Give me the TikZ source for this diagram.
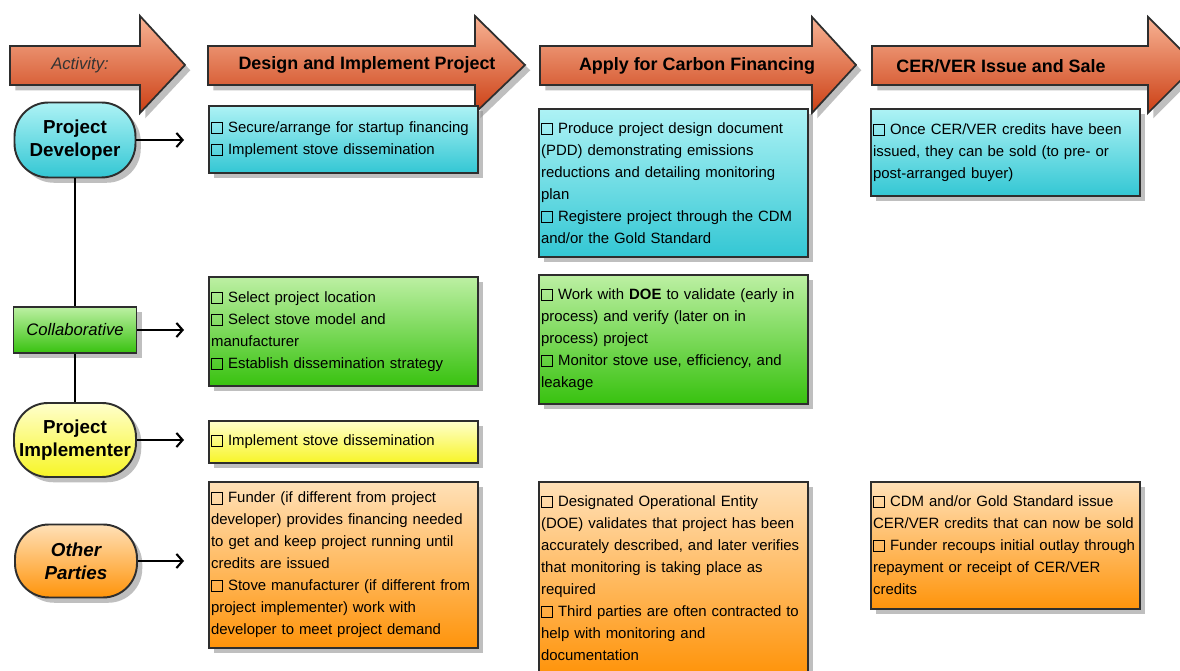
\documentclass[tikz,border=0pt]{standalone}
\usepackage{fontspec}
\setmainfont{Liberation Sans}
\usetikzlibrary{arrows.meta,shadows}
\definecolor{ArrTop}{rgb}{0.97,0.70,0.58}
\definecolor{ArrMid}{rgb}{0.92,0.43,0.25}
\definecolor{ArrBot}{rgb}{0.80,0.25,0.08}
\definecolor{CyanTop}{rgb}{0.68,0.95,0.96}
\definecolor{CyanBot}{rgb}{0.20,0.78,0.83}
\definecolor{GreenTop}{rgb}{0.74,0.94,0.64}
\definecolor{GreenBot}{rgb}{0.22,0.76,0.06}
\definecolor{YellowTop}{rgb}{1,1,0.80}
\definecolor{YellowBot}{rgb}{0.97,0.96,0.15}
\definecolor{OrangeTop}{rgb}{1,0.88,0.72}
\definecolor{OrangeBot}{rgb}{1,0.58,0.04}
\definecolor{EdgeClr}{rgb}{0.18,0.18,0.18}

\newcommand\cb{\raisebox{-0.04em}{\fboxsep=0pt\fboxrule=0.45pt\fbox{\rule{0pt}{0.7em}\hspace{0.7em}}}\ }

\begin{document}
\begin{tikzpicture}[x=0.02cm,y=-0.02cm,
  shadowed/.style={drop shadow={shadow xshift=3pt,shadow yshift=-3pt,fill=black!45,opacity=.55}},
  hdr/.style={draw=EdgeClr,line width=1pt,top color=ArrTop,middle color=ArrMid,bottom color=ArrBot,shadowed},
  hdrtxt/.style={font=\bfseries\fontsize{10.2}{12}\selectfont},
  actor/.style={draw=EdgeClr,line width=1.1pt,shadowed,align=center,inner sep=1pt,
    font=\bfseries\fontsize{10.7}{13}\selectfont},
  pbox/.style={draw=EdgeClr,line width=1.1pt,shadowed,anchor=north west,align=left,
    text width=5.3cm,inner xsep=1.2pt,inner ysep=0pt,font=\fontsize{8.5}{12.5}\selectfont},
  cyanfill/.style={top color=CyanTop,bottom color=CyanBot},
  greenfill/.style={top color=GreenTop,bottom color=GreenBot},
  yellowfill/.style={top color=YellowTop,bottom color=YellowBot},
  orangefill/.style={top color=OrangeTop,bottom color=OrangeBot},
  link/.style={line width=1pt},
  flow/.style={line width=1.2pt,-{Straight Barb[length=3.5pt,width=8pt]}}]
\path[use as bounding box,fill=white] (0,0) rectangle (1180,671);

% activity arrows
\path[hdr] (10,46) -- (140,46) -- (140,16) -- (185,65) -- (140,113) -- (140,85) -- (10,85) -- cycle;
\path[hdr] (208,46) -- (475,46) -- (475,16) -- (525,65) -- (475,113) -- (475,85) -- (208,85) -- cycle;
\path[hdr] (540,46) -- (812,46) -- (812,17) -- (856,65) -- (812,113) -- (812,85) -- (540,85) -- cycle;
\path[hdr] (872,46) -- (1148,46) -- (1148,17) -- (1196,65) -- (1148,113) -- (1148,85) -- (872,85) -- cycle;
\node[font=\itshape\fontsize{9.5}{11}\selectfont,text=black!80] (act) at (80,65) {Activity:};
\node[hdrtxt] (phase1) at (367,65) {Design and Implement Project};
\node[hdrtxt] (phase2) at (697,66) {Apply for Carbon Financing};
\node[hdrtxt] (phase3) at (1001,66) {CER/VER Issue and Sale};

% parties
\node[actor,cyanfill,rounded corners=0.68cm,minimum width=2.42cm,minimum height=1.5cm] (dev) at (75,140) {Project\\Developer};
\node[actor,greenfill,minimum width=2.46cm,minimum height=0.92cm,font=\itshape\fontsize{9.5}{12}\selectfont] (col) at (75,330) {Collaborative};
\node[actor,yellowfill,rounded corners=0.68cm,minimum width=2.44cm,minimum height=1.48cm] (imp) at (75,440) {Project\\Implementer};
\node[actor,orangefill,rounded corners=0.68cm,minimum width=2.44cm,minimum height=1.46cm,font=\bfseries\itshape\fontsize{10.7}{13}\selectfont] (oth) at (76,561) {Other\\Parties};

\coordinate (stop) at (184,0);
\draw[link] (dev.south) -- (col.north);
\draw[link] (col.south) -- (imp.north);
\draw[flow] (dev.east) -- (dev.east -| stop);
\draw[flow] (col.east) -- (col.east -| stop);
\draw[flow] (imp.east) -- (imp.east -| stop);
\draw[flow] (oth.east) -- (oth.east -| stop);

% tasks
\node[pbox,cyanfill,minimum height=1.34cm] (devA) at (208,105) {\cb Secure/arrange for startup financing\\\cb Implement stove dissemination};
\node[pbox,cyanfill,minimum height=2.96cm] (devB) at (538,108) {\cb Produce project design document\\(PDD) demonstrating emissions\\reductions and detailing monitoring\\plan\\\cb Registere project through the CDM\\and/or the Gold Standard};
\node[pbox,cyanfill,minimum height=1.74cm] (devC) at (870,108) {\cb Once CER/VER credits have been\\issued, they can be sold (to pre- or\\post-arranged buyer)};
\node[pbox,greenfill,minimum height=2.18cm] (colA) at (208,276) {\cb Select project location\\\cb Select stove model and\\manufacturer\\\cb Establish dissemination strategy};
\node[pbox,greenfill,minimum height=2.58cm] (colB) at (538,274) {\cb Work with \textbf{DOE} to validate (early in\\process) and verify (later on in\\process) project\\\cb Monitor stove use, efficiency, and\\leakage};
\node[pbox,yellowfill,minimum height=0.84cm] (impA) at (208,420) {\cb Implement stove dissemination};
\node[pbox,orangefill,minimum height=3.32cm] (othA) at (208,481) {\cb Funder (if different from project\\developer) provides financing needed\\to get and keep project running until\\credits are issued\\\cb Stove manufacturer (if different from\\project implementer) work with\\developer to meet project demand};
\node[pbox,orangefill,minimum height=3.84cm] (othB) at (538,481) {\cb Designated Operational Entity\\(DOE) validates that project has been\\accurately described, and later verifies\\that monitoring is taking place as\\required\\\cb Third parties are often contracted to\\help with monitoring and\\documentation};
\node[pbox,orangefill,minimum height=2.54cm] (othC) at (870,481) {\cb CDM and/or Gold Standard issue\\CER/VER credits that can now be sold\\\cb Funder recoups initial outlay through\\repayment or receipt of CER/VER\\credits};
\end{tikzpicture}
\end{document}
